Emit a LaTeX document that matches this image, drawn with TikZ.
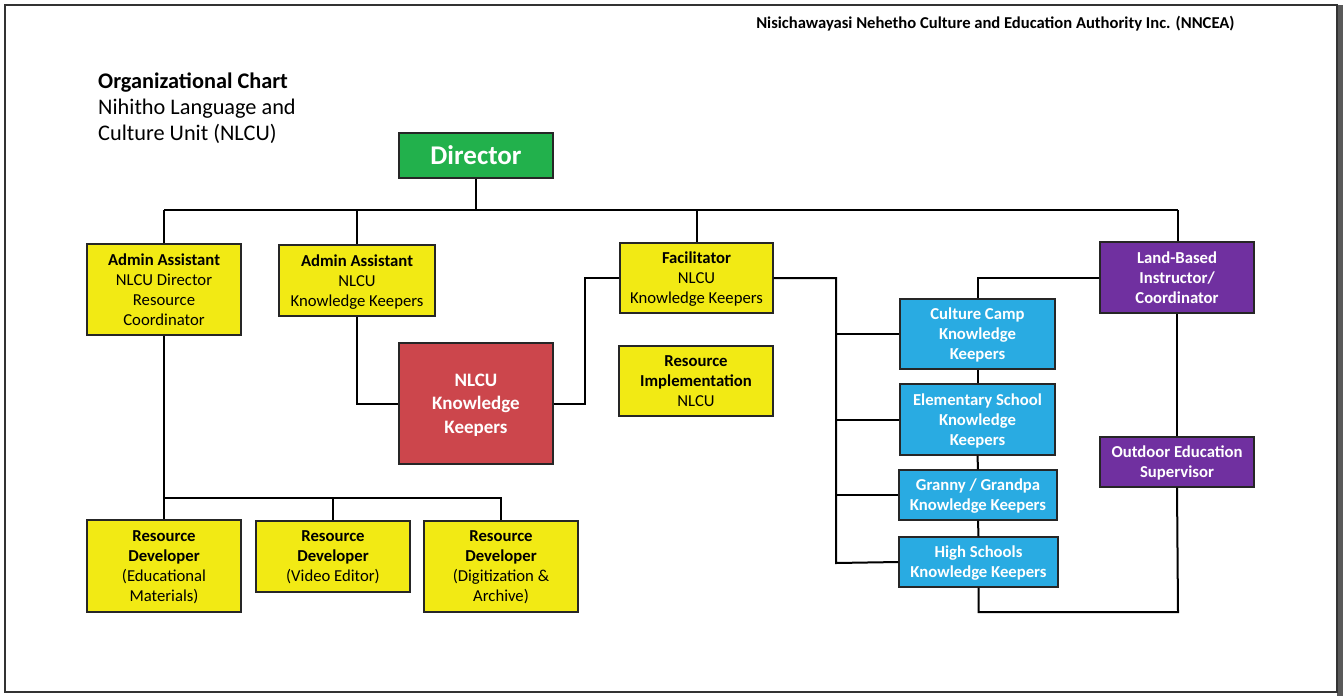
\documentclass[tikz,border=0pt]{standalone}
\usepackage{fontspec}
\setmainfont{Carlito}
\usetikzlibrary{positioning,calc}
\definecolor{dirgreen}{HTML}{22B14C}
\definecolor{boxyellow}{HTML}{F2EA14}
\definecolor{kkred}{HTML}{CC464C}
\definecolor{kkblue}{HTML}{29ABE2}
\definecolor{landpurple}{HTML}{7030A0}
\tikzset{
box/.style = {draw=black!85, line width=1.3pt, rectangle, align=center, inner sep=0pt, text depth=0pt, font=\fontsize{16.7}{20}\selectfont},
yellowbox/.style = {box, fill=boxyellow, text=black},
bluebox/.style = {box, fill=kkblue, text=white, font=\fontsize{16.7}{20}\selectfont\bfseries},
purplebox/.style = {box, fill=landpurple, text=white, font=\fontsize{16.7}{20}\selectfont\bfseries},
link/.style = {draw=black, line width=2pt}
}
\begin{document}
\begin{tikzpicture}[x=1pt,y=-1pt]
	\useasboundingbox (0,0) rectangle (1343,696);
	\fill[black!65] (1337,5) rectangle (1343,696);
	\draw[black!80, line width=2pt] (5,5) rectangle (1337,692);
	\node[anchor=base east, font=\fontsize{16.6}{19}\selectfont\bfseries] (org) at (1238,28) {Nisichawayasi Nehetho Culture and Education Authority Inc. (NNCEA)};
	\node[anchor=north west, align=left, inner sep=0pt, font=\fontsize{22.3}{25.7}\selectfont] (title) at (98,73) {\textbf{Organizational Chart}\\Nihitho Language and\\Culture Unit (NLCU)};
	% top level
	\node[box, fill=dirgreen, text=white, minimum width=154pt, minimum height=45pt, text depth=0pt, font=\fontsize{27}{30}\selectfont\bfseries] (director) at (476,155.5) {Director};
	\node[yellowbox, minimum width=154pt, minimum height=91pt] (admin1) at (164,289.5) {\textbf{Admin Assistant}\\NLCU Director\\Resource\\Coordinator};
	\node[yellowbox, minimum width=156pt, minimum height=71pt] (admin2) at (357,280.5) {\textbf{Admin Assistant}\\NLCU\\Knowledge Keepers};
	\node[yellowbox, minimum width=153pt, minimum height=70pt] (facil) at (696.5,278) {\textbf{Facilitator}\\NLCU\\Knowledge Keepers};
	\node[purplebox, minimum width=154pt, minimum height=71pt] (land) at (1177,277.5) {Land-Based\\Instructor/\\Coordinator};
	% middle
	\node[box, fill=kkred, text=white, minimum width=154pt, minimum height=121pt, font=\fontsize{19}{23.5}\selectfont\bfseries] (nlcukk) at (476,403.5) {NLCU\\Knowledge\\Keepers};
	\node[yellowbox, minimum width=154pt, minimum height=70pt] (resimpl) at (696,381) {\textbf{Resource}\\\textbf{Implementation}\\NLCU};
	\node[bluebox, minimum width=155pt, minimum height=70pt] (camp) at (977.5,334) {Culture Camp\\Knowledge\\Keepers};
	\node[bluebox, minimum width=155pt, minimum height=71pt] (elem) at (977.5,419.5) {Elementary School\\Knowledge\\Keepers};
	\node[bluebox, minimum width=158pt, minimum height=50pt] (granny) at (978,495) {Granny / Grandpa\\Knowledge Keepers};
	\node[bluebox, minimum width=159pt, minimum height=50pt] (high) at (978.5,562) {High Schools\\Knowledge Keepers};
	\node[purplebox, minimum width=154pt, minimum height=50pt] (outdoor) at (1177,462) {Outdoor Education\\Supervisor};
	% resource developers
	\node[yellowbox, minimum width=154pt, minimum height=92pt] (resdev1) at (164,566) {\textbf{Resource}\\\textbf{Developer}\\(Educational\\Materials)};
	\node[yellowbox, minimum width=154pt, minimum height=71pt] (resdev2) at (333,556.5) {\textbf{Resource}\\\textbf{Developer}\\(Video Editor)};
	\node[yellowbox, minimum width=154pt, minimum height=91pt] (resdev3) at (501,566.5) {\textbf{Resource}\\\textbf{Developer}\\(Digitization \&\\Archive)};
	% connectors
	\coordinate (busl) at (164,210);
	\coordinate (busr) at (1178,210);
	\coordinate (spine) at (836,563);
	\coordinate (loop) at (1178,612);
	\coordinate (devbus) at (164,498);
	\draw[link] (director.south) -- (director.south |- busl);
	\draw[link] (busl) -- (busr);
	\draw[link] (busl) -- (admin1.north);
	\draw[link] (admin2.north |- busl) -- (admin2.north);
	\draw[link] (facil.north |- busl) -- (facil.north);
	\draw[link] (busr) -- (busr |- land.north);
	\draw[link] (admin2.south) |- (nlcukk.west);
	\draw[link] (nlcukk.east) -| ($(facil.west)+(-34,0)$) -- (facil.west);
	\draw[link] (facil.east) -| (spine) -- (high.west);
	\draw[link] (spine |- camp.west) -- (camp.west);
	\draw[link] (spine |- elem.west) -- (elem.west);
	\draw[link] (spine |- granny.west) -- (granny.west);
	\draw[link] (camp.south) -- (elem.north);
	\draw[link] (elem.south) -- (granny.north);
	\draw[link] (granny.south) -- (high.north);
	\draw[link] (land.west) -| (camp.north);
	\draw[link] (land.south) -- (outdoor.north);
	\draw[link] (outdoor.south) -- (loop) -| (high.south);
	\draw[link] (admin1.south) -- (devbus) -- (devbus -| resdev3.north) -- (resdev3.north);
	\draw[link] (devbus) -- (resdev1.north);
	\draw[link] (devbus -| resdev2.north) -- (resdev2.north);
\end{tikzpicture}
\end{document}
